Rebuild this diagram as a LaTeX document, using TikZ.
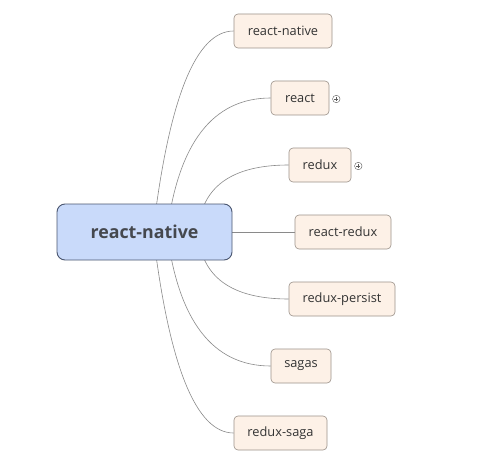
\documentclass[tikz,border=0pt]{standalone}
\usepackage{fontspec}
\setmainfont{Open Sans}
\usetikzlibrary{calc}
\pgfdeclarelayer{paper}
\pgfdeclarelayer{background}
\pgfsetlayers{paper,background,main}
\definecolor{mainfill}{HTML}{C9DAFA}
\definecolor{mainborder}{HTML}{4A5670}
\definecolor{maintext}{HTML}{45484E}
\definecolor{childfill}{HTML}{FDF1E7}
\definecolor{childborder}{HTML}{9C928A}
\definecolor{childtext}{HTML}{333333}
\definecolor{linkcol}{HTML}{8A8A8A}
\tikzset{
  rootbox/.style={draw=mainborder, fill=mainfill, line width=0.9pt, rounded corners=8pt,
    minimum width=175pt, minimum height=56pt, inner sep=0pt, text=maintext,
    font=\fontsize{17.8}{20}\selectfont\bfseries},
  childbox/.style={draw=childborder, fill=childfill, line width=0.6pt, rounded corners=4pt,
    minimum height=34pt, inner sep=0pt, text=childtext,
    font=\fontsize{12.8}{15}\selectfont},
  link/.style={draw=linkcol, line width=0.6pt},
  plusmark/.style={circle, draw=childtext!80, line width=0.4pt, minimum size=7.5pt, inner sep=0pt}
}
\begin{document}
\begin{tikzpicture}[x=1pt, y=-1pt]
\useasboundingbox (0,0) rectangle (495,476);
\begin{pgfonlayer}{paper}
\fill[white] (0,0) rectangle (495,476);
\end{pgfonlayer}
\node[rootbox] (main) at (144.5,232) {react-native};
\node[childbox, minimum width=98pt] (rn) at (283,31) {react-native};
\node[childbox, minimum width=58pt] (react) at (300,98) {react};
\node[childbox, minimum width=62pt] (redux) at (320,165) {redux};
\node[childbox, minimum width=96pt] (rr) at (343,232) {react-redux};
\node[childbox, minimum width=106pt] (rp) at (342,299) {redux-persist};
\node[childbox, minimum width=60pt] (sagas) at (301,366) {sagas};
\node[childbox, minimum width=93pt] (rs) at (280.5,433) {redux-saga};
\node[plusmark] (p1) at (336.3,99) {};
\node[plusmark] (p2) at (358.3,166) {};
\draw[childtext!80, line width=0.4pt] ($(p1)+(-2,0)$) -- ($(p1)+(2,0)$) ($(p1)+(0,-2)$) -- ($(p1)+(0,2)$);
\draw[childtext!80, line width=0.4pt] ($(p2)+(-2,0)$) -- ($(p2)+(2,0)$) ($(p2)+(0,-2)$) -- ($(p2)+(0,2)$);
\begin{pgfonlayer}{background}
\draw[link] ($(main.center)+(8.5,0)$) .. controls (169,98) and (196,31) .. (rn.west);
\draw[link] ($(main.center)+(22.5,0)$) .. controls (178.3,142.7) and (213,98) .. (react.west);
\draw[link] ($(main.center)+(53.5,0)$) .. controls (200.7,187.3) and (231,165) .. (redux.west);
\draw[link] (main.east) -- (rr.west);
\draw[link] ($(main.center)+(53.5,0)$) .. controls (200.7,276.7) and (231,299) .. (rp.west);
\draw[link] ($(main.center)+(22.5,0)$) .. controls (178.3,321.3) and (213,366) .. (sagas.west);
\draw[link] ($(main.center)+(8.5,0)$) .. controls (169,366) and (196,433) .. (rs.west);
\end{pgfonlayer}
\end{tikzpicture}
\end{document}
